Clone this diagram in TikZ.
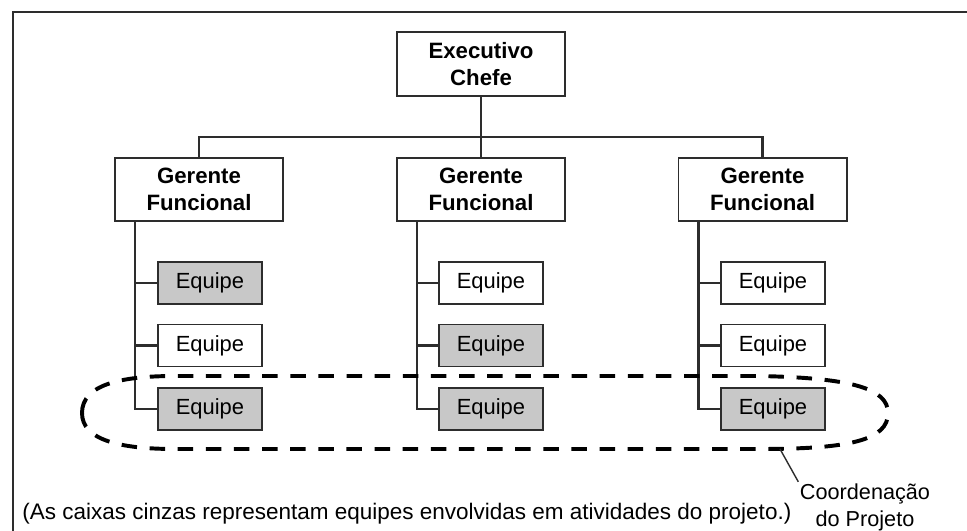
\documentclass[tikz,border=0pt]{standalone}
\usepackage{fontspec}
\setmainfont{Liberation Sans}
\usetikzlibrary{calc}
\definecolor{cinza}{RGB}{200,200,200}
\definecolor{linha}{RGB}{45,45,45}

\begin{document}
\begin{tikzpicture}[x=0.025cm,y=-0.025cm,
    chefe/.style={draw=linha, line width=1.4pt, fill=white, minimum width=4.2cm, minimum height=1.58cm,
      inner sep=0pt, align=center, font=\fontsize{15.8}{19.1}\selectfont\bfseries},
    equipe/.style={draw=linha, line width=1.4pt, fill=white, minimum width=2.6cm, minimum height=1.05cm,
      inner sep=0pt, font=\fontsize{15.6}{19}\selectfont},
    ativa/.style={equipe, fill=cinza},
    liga/.style={draw=linha, line width=1.5pt},
    grupo/.style={line width=2.8pt, dash pattern=on 11pt off 9pt}]
    \useasboundingbox (0,0) rectangle (967,531);
    \draw[linha, line width=1.4pt] (967,12) -- (13,12) -- (13,531);

    % chefia
    \node[chefe] (ceo) at (481,64) {Executivo\\Chefe};
    \node[chefe] (gm1) at (199,189.5) {Gerente\\Funcional};
    \node[chefe] (gm2) at (481,189.5) {Gerente\\Funcional};
    \node[chefe] (gm3) at (762.5,189.5) {Gerente\\Funcional};
    \coordinate (bus) at (0,137);
    \draw[liga] (ceo.south) -- (gm2.north);
    \draw[liga] (gm1.north) -- (gm1.north |- bus) -- (gm3.north |- bus) -- (gm3.north);

    % equipes
    \node[ativa]  (e11) at (210,283) {Equipe};
    \node[equipe] (e12) at (210,345.5) {Equipe};
    \node[ativa]  (e13) at (210,409) {Equipe};
    \node[equipe] (e21) at (491,283) {Equipe};
    \node[ativa]  (e22) at (491,345.5) {Equipe};
    \node[ativa]  (e23) at (491,409) {Equipe};
    \node[equipe] (e31) at (773,283) {Equipe};
    \node[equipe] (e32) at (773,345.5) {Equipe};
    \node[ativa]  (e33) at (773,409) {Equipe};

    \coordinate (t1) at ($(gm1.south west)+(21,0)$);
    \coordinate (t2) at ($(gm2.south west)+(21,0)$);
    \coordinate (t3) at ($(gm3.south west)+(21,0)$);
    \draw[liga] (t1) |- (e13.west);
    \draw[liga] (e11.west) -- (e11.west -| t1);
    \draw[liga] (e12.west) -- (e12.west -| t1);
    \draw[liga] (t2) |- (e23.west);
    \draw[liga] (e21.west) -- (e21.west -| t2);
    \draw[liga] (e22.west) -- (e22.west -| t2);
    \draw[liga] (t3) |- (e33.west);
    \draw[liga] (e31.west) -- (e31.west -| t3);
    \draw[liga] (e32.west) -- (e32.west -| t3);

    % coordenacao do projeto
    \draw[grupo] (82,413) .. controls (82,385) and (120,376) .. (175,376) -- (760,376)
      .. controls (850,378) and (888,388) .. (888,413)
      .. controls (888,440) and (850,449) .. (760,449) -- (175,449)
      .. controls (120,449) and (82,440) .. cycle;
    \coordinate (pin) at (780,449);
    \node[align=center, inner sep=1pt, font=\fontsize{15.4}{19.1}\selectfont] (coord) at (865,507) {Coordenação\\do Projeto};
    \draw[linha, line width=1pt] (pin) -- (coord.north west);

    \node[anchor=base west, inner sep=0pt, font=\fontsize{16}{19}\selectfont] (nota) at (22,519)
      {(As caixas cinzas representam equipes envolvidas em atividades do projeto.)};
\end{tikzpicture}
\end{document}
